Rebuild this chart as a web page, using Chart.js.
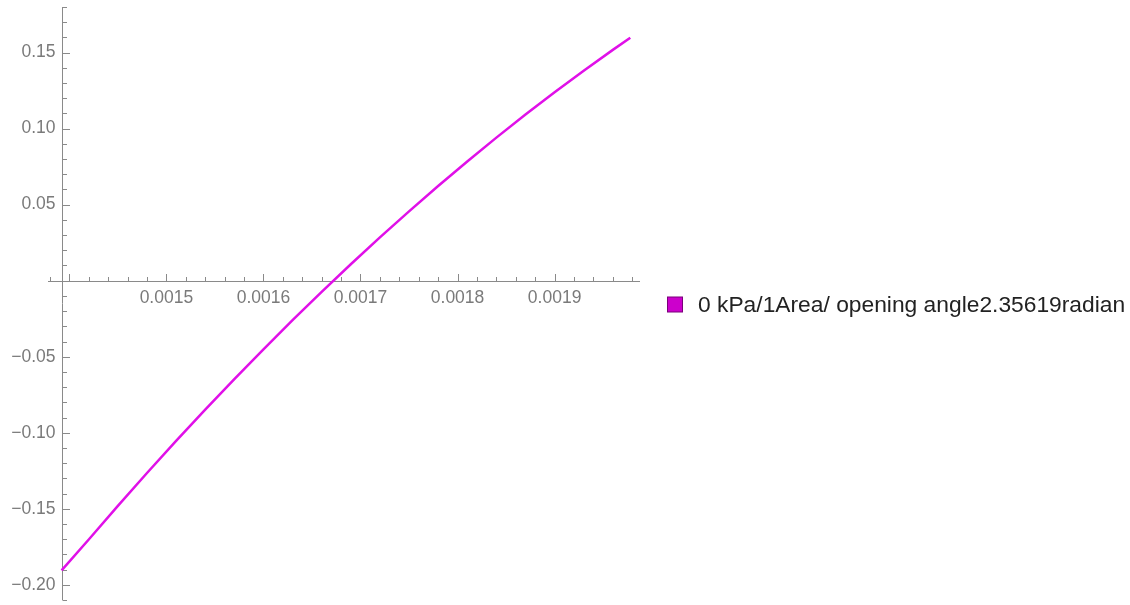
<!DOCTYPE html>
<html>
<head>
<meta charset="utf-8">
<script src="https://cdn.jsdelivr.net/npm/chart.js@4/dist/chart.umd.min.js"></script>
<style>
html, body { margin: 0; padding: 0; background: #fff; }
#wrap { width: 1130px; height: 605px; position: relative; }
</style>
</head>
<body>
<div id="wrap"><canvas id="grafica"></canvas></div>
<script>
// datos
var serieLabel = '0 kPa/1Area/ opening angle2.35619radian';
var xValues = [0.001392, 0.00142, 0.00145, 0.00148, 0.00151, 0.00154, 0.00157, 0.00160, 0.00163, 0.00166, 0.00169,
               0.00172, 0.00175, 0.00178, 0.00181, 0.00184, 0.00187, 0.00190, 0.00193, 0.00196, 0.001978];
var yValues = [-0.1905, -0.1702, -0.1481, -0.1265, -0.1054, -0.0848, -0.0647, -0.0451, -0.0259, -0.0073, 0.0108,
               0.0285, 0.0456, 0.0623, 0.0784, 0.0941, 0.1093, 0.1239, 0.1381, 0.1518, 0.1598];

var xMajorTicks = [0.0014, 0.0015, 0.0016, 0.0017, 0.0018, 0.0019];
var xTickLabels = ['', '0.0015', '0.0016', '0.0017', '0.0018', '0.0019'];
var yMajorTicks = [0.15, 0.10, 0.05, -0.05, -0.10, -0.15, -0.20];
var yTickLabels = ['0.15', '0.10', '0.05', '\u22120.05', '\u22120.10', '\u22120.15', '\u22120.20'];

var xMin = 0.001378, xMax = 0.001988;
var yMin = -0.21, yMax = 0.18;
var yAxisAt = 0.001392; // donde cruza el eje vertical

var puntos = xValues.map(function (x, i) { return { x: x, y: yValues[i] }; });

var colorLinea = 'rgb(224, 16, 232)';
var colorEje = '#8a8a8a';
var colorTexto = '#7a7a7a';

// ejes al estilo Mathematica (cruzan en el origen)
var ejes = {
    id: 'ejes',
    beforeDatasetsDraw: function (chart) {
        var ctx = chart.ctx;
        var xs = chart.scales.x, ys = chart.scales.y;
        var ax = Math.round(xs.getPixelForValue(yAxisAt)) + 0.5;
        var ay = Math.round(ys.getPixelForValue(0)) + 0.5;
        ctx.save();
        ctx.strokeStyle = colorEje;
        ctx.lineWidth = 1;
        ctx.beginPath();
        ctx.moveTo(xs.left, ay); ctx.lineTo(xs.right, ay);
        ctx.moveTo(ax, ys.top); ctx.lineTo(ax, ys.bottom);
        ctx.stroke();

        // ticks menores
        ctx.beginPath();
        for (var i = 0; i <= 30; i++) {
            var vx = 0.00138 + i * 0.00002;
            var px = Math.round(xs.getPixelForValue(vx)) + 0.5;
            ctx.moveTo(px, ay); ctx.lineTo(px, ay - 4.5);
        }
        for (var j = 0; j <= 39; j++) {
            var vy = -0.21 + j * 0.01;
            var py = Math.round(ys.getPixelForValue(vy)) + 0.5;
            ctx.moveTo(ax, py); ctx.lineTo(ax + 4.5, py);
        }
        ctx.stroke();

        // ticks mayores
        ctx.beginPath();
        xMajorTicks.forEach(function (v) {
            var px = Math.round(xs.getPixelForValue(v)) + 0.5;
            ctx.moveTo(px, ay); ctx.lineTo(px, ay - 7.5);
        });
        yMajorTicks.forEach(function (v) {
            var py = Math.round(ys.getPixelForValue(v)) + 0.5;
            ctx.moveTo(ax, py); ctx.lineTo(ax + 7.5, py);
        });
        ctx.stroke();

        // etiquetas
        ctx.fillStyle = colorTexto;
        ctx.font = '17.5px "Liberation Sans", Arial, sans-serif';
        ctx.textAlign = 'center';
        ctx.textBaseline = 'middle';
        xMajorTicks.forEach(function (v, k) {
            ctx.fillText(xTickLabels[k], xs.getPixelForValue(v), ay + 17);
        });
        ctx.textAlign = 'right';
        yMajorTicks.forEach(function (v, k) {
            ctx.fillText(yTickLabels[k], ax - 7, ys.getPixelForValue(v));
        });
        ctx.restore();
    },
    afterDraw: function (chart) {
        // leyenda a la derecha
        var ctx = chart.ctx;
        var cy = (chart.chartArea.top + chart.chartArea.bottom) / 2 + 1;
        ctx.save();
        ctx.fillStyle = '#cc00cc';
        ctx.strokeStyle = '#7a007a';
        ctx.lineWidth = 1;
        ctx.fillRect(667.5, cy - 7.5, 15, 15);
        ctx.strokeRect(667.5, cy - 7.5, 15, 15);
        ctx.fillStyle = '#222';
        ctx.font = '22.8px "Liberation Sans", Arial, sans-serif';
        ctx.textAlign = 'left';
        ctx.textBaseline = 'middle';
        ctx.fillText(chart.data.datasets[0].label, 698, cy + 1.5);
        ctx.restore();
    }
};

var ctx = document.getElementById('grafica').getContext('2d');
var chart = new Chart(ctx, {
    type: 'line',
    data: {
        datasets: [
            {
                label: serieLabel,
                data: puntos,
                borderColor: colorLinea,
                backgroundColor: colorLinea,
                borderWidth: 2.5,
                pointRadius: 0,
                fill: false,
                tension: 0
            }
        ]
    },
    options: {
        responsive: true,
        maintainAspectRatio: false,
        animation: false,
        layout: {
            padding: { left: 48, right: 490, top: 7, bottom: 5 }
        },
        scales: {
            x: { type: 'linear', min: xMin, max: xMax, display: false },
            y: { type: 'linear', min: yMin, max: yMax, display: false }
        },
        plugins: {
            legend: { display: false },
            tooltip: { enabled: false }
        }
    },
    plugins: [ejes]
});
</script>
</body>
</html>
